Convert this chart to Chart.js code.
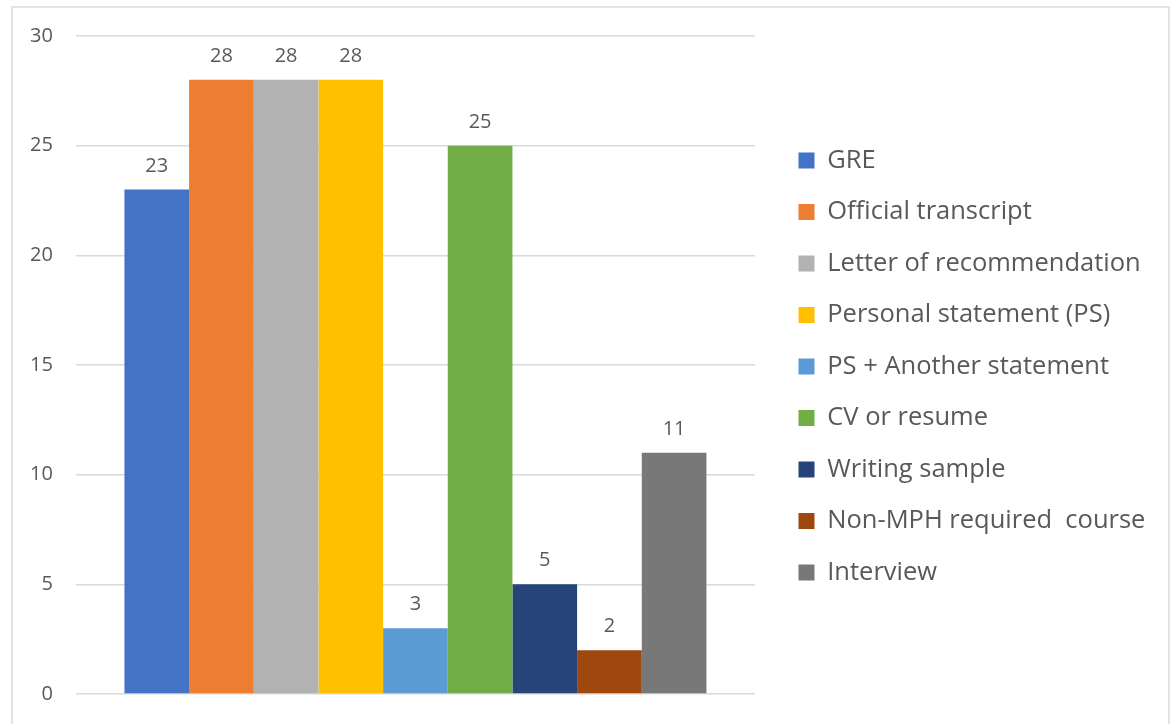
<!DOCTYPE html>
<html>
<head>
<meta charset="utf-8">
<script src="https://cdn.jsdelivr.net/npm/chart.js@4/dist/chart.umd.min.js"></script>
<style>
    body { margin: 0; background: #fff; overflow: hidden; }
    .chart-frame {
        position: absolute; left: 11px; top: 6px;
        width: 1159px; height: 740px; box-sizing: border-box;
        border: 2px solid #e3e3e3;
    }
    #chart-requirements { position: absolute; left: 0; top: 1px; display: block; }
</style>
</head>
<body>
<div class="chart-frame"></div>
<canvas id="chart-requirements" width="1173" height="728"></canvas>
<script>
// --- data ---
const categories = ['Requirement'];
const seriesNames = [
    'GRE', 'Official transcript', 'Letter of recommendation', 'Personal statement (PS)',
    'PS + Another statement', 'CV or resume', 'Writing sample', 'Non-MPH required  course', 'Interview'
];
const seriesValues = [23, 28, 28, 28, 3, 25, 5, 2, 11];
const seriesColors = ['#4472C4', '#ED7D31', '#B2B2B2', '#FFC000', '#5B9BD5', '#70AD47', '#264478', '#9E480E', '#787878'];
const yTicks = [0, 5, 10, 15, 20, 25, 30];

const FONT = "'Open Sans', 'Noto Sans', sans-serif";
const TEXT_COLOR = '#595959';

// value labels above each bar
const valueLabels = {
    id: 'valueLabels',
    afterDatasetsDraw(chart) {
        const ctx = chart.ctx;
        ctx.save();
        ctx.font = `20px ${FONT}`;
        ctx.fillStyle = TEXT_COLOR;
        ctx.textAlign = 'center';
        ctx.textBaseline = 'alphabetic';
        chart.data.datasets.forEach((ds, i) => {
            chart.getDatasetMeta(i).data.forEach((bar, j) => {
                ctx.fillText(String(ds.data[j]), bar.x, bar.y - 18);
            });
        });
        ctx.restore();
    }
};

// push legend a little away from the plot, and don't clip its labels
const legendGap = {
    id: 'legendGap',
    afterLayout(chart) {
        const lg = chart.legend;
        lg.left += 17.5;
        lg.right = chart.width;
        lg.top += 1.5; lg.bottom += 1.5;
    }
};

new Chart(document.getElementById('chart-requirements'), {
    type: 'bar',
    data: {
        labels: categories,
        datasets: seriesNames.map((name, i) => ({
            label: name,
            data: [seriesValues[i]],
            backgroundColor: seriesColors[i],
            borderWidth: 0,
            categoryPercentage: 0.857,
            barPercentage: 1
        }))
    },
    options: {
        responsive: false,
        animation: false,
        layout: { padding: { left: 7, top: 0, bottom: 0, right: 78 } },
        scales: {
            x: { display: false },
            y: {
                min: 0, max: 30,
                afterBuildTicks: axis => { axis.ticks = yTicks.map(v => ({ value: v })); },
                border: { display: false },
                grid: { color: '#d9d9d9', lineWidth: 1.5, drawTicks: false },
                ticks: { padding: 23, color: TEXT_COLOR, font: { family: FONT, size: 20 } }
            }
        },
        plugins: {
            legend: {
                position: 'right',
                maxWidth: 340,
                labels: {
                    boxWidth: 16, boxHeight: 16, padding: 26,
                    color: TEXT_COLOR,
                    font: { family: FONT, size: 25.5 }
                }
            },
            tooltip: { enabled: false }
        }
    },
    plugins: [valueLabels, legendGap]
});
</script>
</body>
</html>
